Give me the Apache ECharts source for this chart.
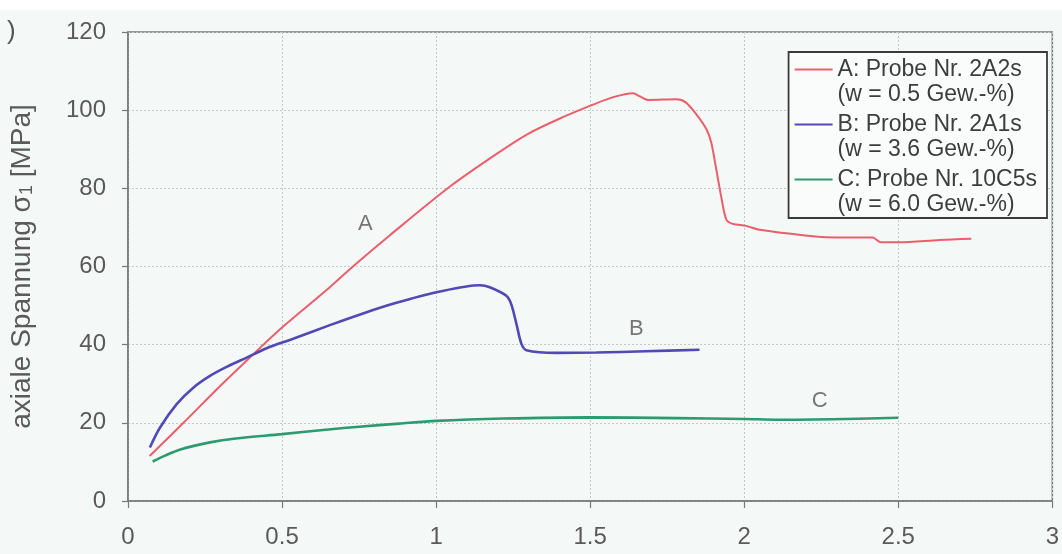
<!DOCTYPE html>
<html>
<head>
<meta charset="utf-8">
<script src="https://cdn.jsdelivr.net/npm/echarts@6/dist/echarts.min.js"></script>
<style>
  html, body { margin: 0; padding: 0; background: #f4f8f6; }
  #chart { width: 1062px; height: 554px; }
</style>
</head>
<body>
<div id="chart"></div>
<script>
// Axial stress vs. strain for three specimens
const seriesNames = ['A: Probe Nr. 2A2s', 'B: Probe Nr. 2A1s', 'C: Probe Nr. 10C5s'];
const waterContent = ['(w = 0.5 Gew.-%)', '(w = 3.6 Gew.-%)', '(w = 6.0 Gew.-%)'];
const seriesColors = ['#ea5f6c', '#5149b4', '#2e9a70'];

const xTicks = { min: 0, max: 3, interval: 0.5 };
const yTicks = { min: 0, max: 120, interval: 20 };

// [strain, stress] pairs
const curveA = [
  [0.07, 11.5], [0.1, 13.8], [0.18, 20], [0.3, 29.5], [0.43, 39.3], [0.5, 44.4],
  [0.655, 54.7], [0.73, 60], [0.85, 68], [1.044, 80.4], [1.2, 89], [1.3, 94],
  [1.4, 97.8], [1.509, 101.4], [1.57, 103.2], [1.64, 104.3], [1.66, 103.6],
  [1.69, 102.6], [1.78, 102.8], [1.81, 102], [1.844, 99], [1.877, 95.2],
  [1.893, 91.7], [1.909, 85], [1.925, 78], [1.942, 72], [1.963, 70.9],
  [2.006, 70.4], [2.05, 69.4], [2.158, 68.3], [2.266, 67.5], [2.417, 67.4],
  [2.444, 66.2], [2.504, 66.2], [2.634, 66.8], [2.737, 67.1]
];
const curveB = [
  [0.071, 13.7], [0.104, 18.8], [0.158, 24.8], [0.212, 29], [0.266, 32],
  [0.32, 34.3], [0.385, 36.7], [0.45, 39.1], [0.536, 41.5], [0.655, 45],
  [0.763, 48], [0.871, 50.7], [1.001, 53.4], [1.142, 55.2], [1.174, 54.7],
  [1.228, 52.5], [1.244, 50.3], [1.261, 45.2], [1.277, 40.2], [1.293, 38.6],
  [1.39, 37.9], [1.52, 38], [1.68, 38.3], [1.855, 38.7]
];
const curveC = [
  [0.08, 10.1], [0.12, 11.6], [0.17, 13.2], [0.266, 15], [0.35, 16], [0.5, 17.1],
  [0.65, 18.3], [0.75, 19], [0.88, 19.8], [1.0, 20.5], [1.22, 21.1], [1.5, 21.4],
  [1.78, 21.2], [2.0, 21], [2.11, 20.8], [2.33, 21], [2.5, 21.3]
];

// curve letters placed in data coordinates
const curveLabels = [
  { name: 'A', value: [0.77, 71] },
  { name: 'B', value: [1.65, 44] },
  { name: 'C', value: [2.245, 25.6] }
];

const font = "'Liberation Sans', Arial, sans-serif";
const curves = [curveA, curveB, curveC];
const widths = [2, 2.6, 2.6];

const chart = echarts.init(document.getElementById('chart'), null, { renderer: 'canvas' });

const series = curves.map((d, i) => ({
  name: seriesNames[i],
  type: 'line',
  data: d,
  showSymbol: false,
  symbol: 'none',
  smooth: 0.3,
  lineStyle: { color: seriesColors[i], width: widths[i] },
  itemStyle: { color: seriesColors[i] },
  animation: false,
  z: 3
}));

series.push({
  type: 'scatter',
  data: curveLabels,
  symbolSize: 0,
  silent: true,
  animation: false,
  label: {
    show: true,
    position: 'inside',
    formatter: p => p.name,
    fontFamily: font,
    fontSize: 22,
    color: '#555'
  }
});

chart.setOption({
  backgroundColor: '#f4f8f6',
  animation: false,
  graphic: [
    { type: 'rect', shape: { x: 0, y: 0, width: 1062, height: 10 }, style: { fill: '#ffffff' }, silent: true },
    { type: 'text', left: 7, top: 19, style: { text: ')', fontFamily: font, fontSize: 26, fill: '#555' } }
  ],
  grid: {
    left: 128, right: 9, top: 32, bottom: 53,
    show: true, borderColor: '#7a7a7a', borderWidth: 1.5, backgroundColor: 'transparent'
  },
  legend: {
    data: seriesNames,
    orient: 'vertical',
    right: 15,
    top: 52,
    selectedMode: false,
    backgroundColor: '#fafcfb',
    borderColor: '#3a3a3a',
    borderWidth: 1.8,
    padding: [5, 10, 1, 6],
    itemGap: 5,
    itemWidth: 38,
    itemHeight: 50,
    icon: 'path://M0,0L0,0M0,11.5H38V13.5H0ZM0,50L0,50',
    itemStyle: { borderWidth: 0 },
    formatter: name => name + '\n' + waterContent[seriesNames.indexOf(name)],
    textStyle: { fontFamily: font, fontSize: 23, lineHeight: 25, color: '#3d3d3d' }
  },
  xAxis: {
    type: 'value',
    min: xTicks.min, max: xTicks.max, interval: xTicks.interval,
    axisLine: { show: true, lineStyle: { color: '#7a7a7a', width: 1.5 } },
    axisTick: { show: true, length: 7, lineStyle: { color: '#7a7a7a', width: 1.2 } },
    axisLabel: { margin: 24, fontFamily: font, fontSize: 24, color: '#5a5a5a' },
    splitLine: { show: true, lineStyle: { color: '#c4c9c7', width: 1, type: [2, 2] } }
  },
  yAxis: {
    type: 'value',
    min: yTicks.min, max: yTicks.max, interval: yTicks.interval,
    name: 'axiale Spannung σ{s|1} [MPa]',
    nameLocation: 'middle',
    nameGap: 92,
    nameTextStyle: {
      fontFamily: font, fontSize: 28, color: '#5a5a5a',
      rich: { s: { fontFamily: font, fontSize: 18, color: '#5a5a5a', padding: [10, 0, 0, 0] } }
    },
    axisLine: { show: true, lineStyle: { color: '#7a7a7a', width: 1.5 } },
    axisTick: { show: true, length: 6, lineStyle: { color: '#7a7a7a', width: 1.2 } },
    axisLabel: { margin: 22, fontFamily: font, fontSize: 24, color: '#5a5a5a' },
    splitLine: { show: true, lineStyle: { color: '#c4c9c7', width: 1, type: [2, 2] } }
  },
  series: series
});
</script>
</body>
</html>
